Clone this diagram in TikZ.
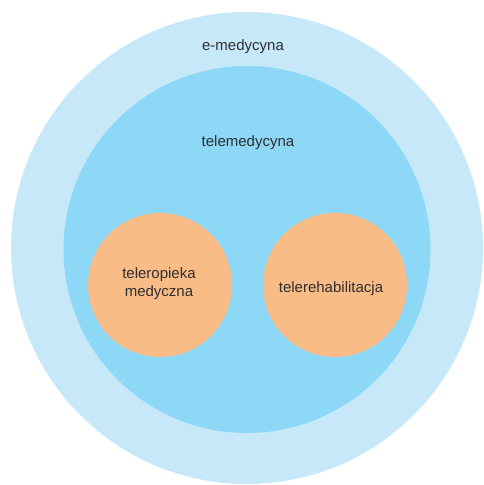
\documentclass[tikz,border=0pt]{standalone}
\usepackage{fontspec}
\setmainfont{Liberation Sans}
\definecolor{outerblue}{HTML}{C6E8F9}
\definecolor{innerblue}{HTML}{8DD7F7}
\definecolor{orangec}{HTML}{F9BC87}
\definecolor{txt}{HTML}{2E2E2E}
\begin{document}
\begin{tikzpicture}[x=1pt,y=-1pt,
  lbl/.style={text=txt,font=\fontsize{15}{18}\selectfont,align=center,inner sep=0pt},
  disc/.style={circle,inner sep=0pt,draw=none}]
\useasboundingbox (0,0) rectangle (484,485);
\node[disc,fill=outerblue,minimum size=472pt] (outer) at (247,248) {};
\node[disc,fill=innerblue,minimum size=367pt] (inner) at (247,249.5) {};
\node[disc,fill=orangec,minimum size=144pt] (left) at (160,285) {};
\node[disc,fill=orangec,minimum size=144pt] (right) at (335,285) {};
\node[lbl] (t1) at (243,47) {e-medycyna};
\node[lbl] (t2) at (248,143) {telemedycyna};
\node[lbl] (t3) at (159,284) {teleropieka\\medyczna};
\node[lbl] (t4) at (331,289) {telerehabilitacja};
\end{tikzpicture}
\end{document}
